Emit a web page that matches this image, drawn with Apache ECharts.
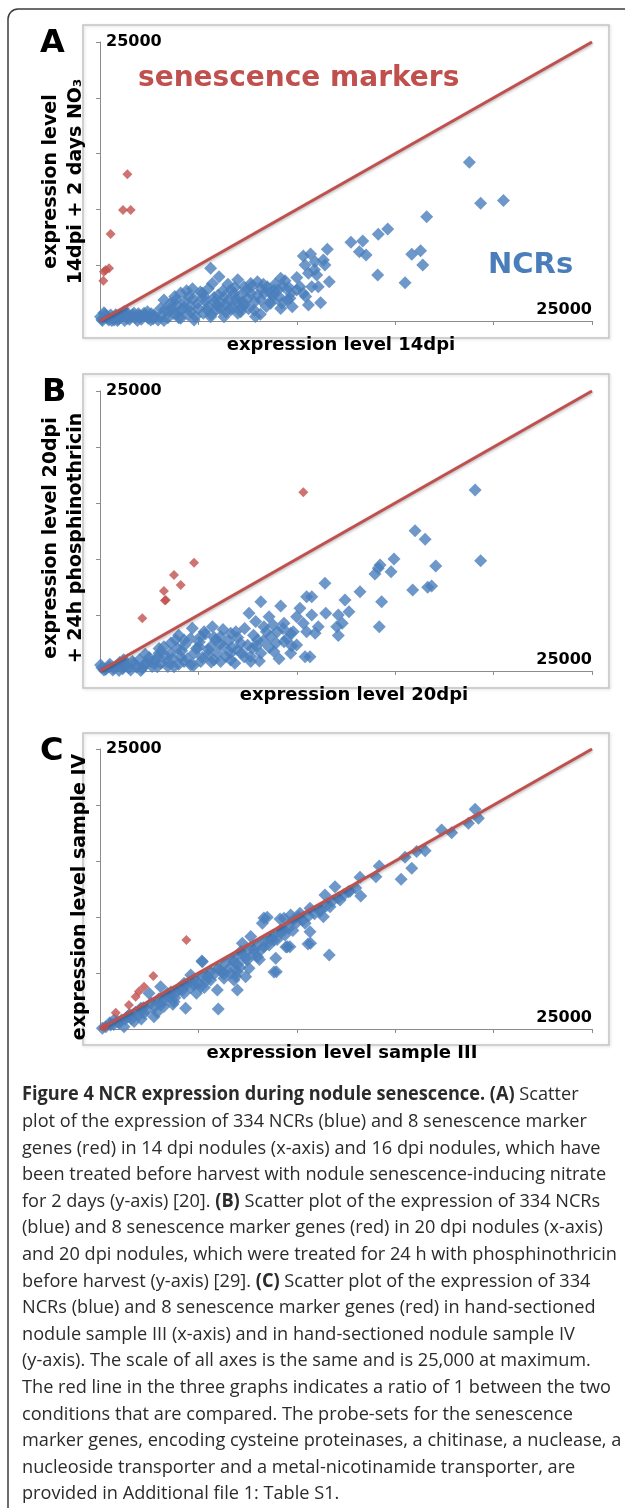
<!DOCTYPE html>
<html><head><meta charset="utf-8">
<style>html,body{margin:0;padding:0;background:#fff}#c{width:625px;height:1508px}</style>
<script src="https://cdn.jsdelivr.net/npm/echarts@6/dist/echarts.min.js"></script>
</head><body><div id="c"></div>
<script>
// ---------- data ----------
const AXIS_MIN = 0, AXIS_MAX = 25000, AXIS_STEP = 5000;
const maxTickLabel = '25000';
const panelLetters = ['A', 'B', 'C'];
const xTitles = ['expression level 14dpi', 'expression level 20dpi', 'expression level sample III'];
const yTitles = ['expression level\n14dpi + 2 days NO\u2083', 'expression level 20dpi\n+ 24h phosphinothricin', 'expression level sample IV'];
const ratioLine = [[0, 0], [25000, 25000]];

const ncrA = [
 [18770,14220],[19340,10540],[20500,10800],[16600,9350],[14620,8240],[14140,7770],[12750,7050],[13350,7170],
 [13180,6210],[13520,5910],[15840,5970],[16290,6300],[16400,5020],[14110,4120],[15500,3430],[11550,6420],
 [10330,5820],[10700,6000],[10930,5320],[11350,5470],[11430,5020],[10420,5020],[10590,4270],[11010,4120],
 [11650,3520],[10160,3080],[10760,3080],[10330,2480],[11090,3080],[10590,1430],[11210,1640],[9650,2030],
 [9990,2780],[10900,4600],[10000,3900],[10450,2200],
 [5620,4720],[6050,3970],[5710,3370],[9180,3820],[9350,3080],[9100,2180],[9520,1880],[9180,1130],
 [8000,3520],[8500,3080],[7320,3080],[7660,2480],[6810,2480],[6300,2180],[6980,1580],[8170,1880],
 [8670,1580],[7830,990],[6640,990],[5960,1430],[5290,2180],[4950,1580],[5460,990],[4610,840],
 [4270,1280],[3930,690],[3590,1580],[3250,1880],[3080,1130],[3510,840],[2740,540],[2410,840],
 [2070,390],[1730,690],[1390,240],[1050,390],[710,90],[370,240],[120,50],[30,390],[880,50],[1900,50],
 [2580,90],[3250,50],[4100,240],[4780,90],[5620,390],[6300,390],[7150,840],[7320,1430],[8340,2480],
 [8840,2780],[9690,2480],[9770,1280],[7660,3370],[6640,2780],[6130,1580],[5200,2480],[4520,2180],
 [3850,1880],[200,750],[540,540],[1220,840],[1560,390],[2240,690],
 [100,150],[300,400],[450,100],[650,300],[800,550],[950,150],[1100,600],[1250,50],[1350,450],[1500,150],
 [1650,550],[1800,300],[1950,650],[2100,150],[2300,500],[2450,250],[2600,650],[2800,350],[2950,100],[250,600],
 [600,50],[1000,300],[1400,700],[2000,500],[2700,200],
 [3100,500],[3300,1000],[3450,300],[3600,1200],[3750,700],[3900,1400],[4000,300],[4150,1000],[4300,1700],[4450,600],
 [4600,1300],[4750,2000],[4850,400],[5000,1100],[5100,2600],[5250,700],[5350,1800],[5500,1300],[5650,600],[5800,2100],
 [5900,1000],[4400,2700],[4700,2900],[3800,2200],[4100,2500],
 [6100,1100],[6250,2700],[6400,800],[6550,1900],[6700,1300],[6850,3000],[7000,700],[7100,2200],[7250,1700],[7400,2700],
 [7550,1100],[7700,3100],[7850,1700],[8000,2300],[8150,600],[8300,3300],[8450,1300],[8600,2600],[8750,1900],[8900,3300],
 [9050,2800],[9250,1600],[9400,3600],[7900,400],[6500,3300],[7000,3700],
 [5500,2900],[6000,2300],[6900,2000],[7500,2000],[8200,2900],[8800,2300],[9600,3000],[5800,1700],[6400,1500],[7200,1200]
];
const senA = [[1390,13140],[1170,9950],[1560,9950],[540,7800],[200,4420],[460,4720],[170,3610],[290,4570]];

const ncrB = [
 [19060,16160],[19340,9850],[16010,12530],[16520,11760],[14940,10000],[14230,9470],[13970,8660],[14790,8870],
 [14140,9170],[17060,9380],[15890,7230],[16650,7470],[16850,7590],[11430,7830],[13210,7080],[12450,6340],
 [14310,6190],[12650,5300],[11470,5150],[12110,5000],[12310,4260],[12030,3960],[12110,3160],[14190,3960],
 [10500,6640],[10760,6640],[10160,5600],[9990,4850],[10760,5000],[10330,4260],[11090,3960],[10500,3510],
 [10930,3360],[9820,3510],[9990,2320],[10420,1280],[10670,1280],[9740,2230],
 [8170,6190],[9180,5810],[7570,5150],[8590,4850],[7910,4410],[8330,3960],[4690,3810],[9350,4260],
 [9010,3510],[6900,3510],[5710,3960],[6130,3070],[5120,3070],[7150,2470],[6300,2170],[8000,2770],
 [8670,3070],[9350,2620],[8840,1730],[7320,1280],[8170,1580],[6640,980],[5620,2170],[4270,2770],
 [3930,2030],[3590,1580],[3250,2170],[3000,1580],[4780,1580],[5460,1430],[5120,840],[4270,840],
 [3420,840],[2580,840],[6130,840],[6980,1880],[7660,840],[2240,540],[1730,690],[1220,390],[710,240],
 [200,90],[30,540],[460,390],[970,50],[1560,90],[2070,50],[2910,390],[3760,390],[4610,540],[5790,980],
 [6640,1580],[5030,2170],[4100,1280],[7740,2030],[9690,3360],[9690,1580],[5880,2770],[6640,3360],[5290,3510],
 [100,300],[300,150],[500,600],[650,100],[850,450],[1000,750],[1150,200],[1300,600],[1450,300],[1650,850],
 [1850,350],[2000,1000],[2150,250],[2350,700],[2500,1200],[2650,400],[2800,900],[2950,1300],[3100,700],[3300,1400],
 [3450,400],[3600,2500],[3700,1100],[3850,2800],[4000,600],[4150,1800],[4300,2300],[4450,1100],[4600,2900],[4750,500],
 [4900,2000],[5050,2600],[5200,1200],[5350,3300],[5500,1900],[5650,800],[5800,3000],[5950,1600],[6100,2400],[6250,3700],
 [6400,1300],[6550,2700],[6700,2100],[6850,700],[7000,3000],[7200,1600],[7350,3800],[7500,2300],[7650,1300],[7800,3200],
 [7950,2200],[8100,900],[8300,2700],[8450,3500],[8600,2100],[8800,4100],[8950,2500],[9100,1100],[9300,3800],[9500,2900],
 [2300,1500],[1200,1000],[4000,3200],[3000,2000]
];
const senB = [[2150,4700],[3250,7140],[3340,6340],[3760,8570],[4100,7680],[4780,9670],[10330,15950],[3300,6300]];

const ncrC = [
 [19060,19610],[19230,18810],[18720,18360],[17870,17530],[17360,17770],[16520,15920],[16090,15840],[15500,15330],
 [15840,14350],[15300,13370],[14190,14560],[14020,13600],[13210,13540],[13250,11880],[12620,12260],[11940,12710],
 [11430,11970],[12200,11520],[11690,10920],[11180,10480],[10670,10780],[10160,10330],[9820,9730],[10420,9440],
 [11350,10030],[10670,8690],[10700,7650],[9650,7350],[11650,6610],[10080,10030],
 [8500,9970],[8250,9440],[9350,9880],[9520,7350],[8930,6310],[8960,5120],[7660,8250],[7230,7650],
 [7150,6910],[7570,5420],[7400,4670],[6980,3490],[6640,4970],[5960,3490],[6010,1790],[5200,6010],
 [4610,4820],[4270,4080],[4350,1850],[3080,3780],[2490,3190],[3080,2150],[2740,1100],[1730,660],
 [970,510],[1390,1100],[2070,1850],[3590,2890],[3930,3340],[4780,3930],[5460,4670],[6130,5270],
 [6810,6010],[7830,7060],[8670,7950],[9180,8840],[9690,10180],[540,360],[120,60],[1220,210],
 [2240,1400],[3250,2000],[3760,2440],[4270,3190],[5120,3780],[5620,4380],[6300,4530],[6980,5120],
 [7490,6160],[8000,6460],[8330,7350],[8840,7950],[9350,8840],[710,810],[3420,3190],[6810,4380],
 [8840,5090],[9450,7320],[10570,7590],[5180,6070],[8330,9910],[9150,9820],
 [300,200],[500,550],[700,400],[900,700],[1100,800],[1300,900],[1500,1300],[1600,900],[1800,1500],[2000,1300],
 [2200,1900],[2400,1700],[2600,2300],[2800,2000],[3000,2700],[3200,2500],[3400,2900],[3600,3300],[3800,2800],[4000,3600],
 [4200,3500],[4400,4000],[4600,3700],[4800,4400],[5000,4100],[5200,4700],[5400,4300],[5600,5100],[5800,4900],[6000,5400],
 [6200,5100],[6400,5900],[6600,5500],[6800,6300],[7000,5800],[7200,6700],[7400,6300],[7600,7100],[7800,6700],[8000,7500],
 [8200,7100],[8400,7900],[8600,7500],[8800,8300],[9000,8000],[9200,8600],[9400,8400],[9600,9000],[9800,8800],[10000,9500],
 [10300,9700],[10600,10100],[10900,10300],[11200,10700],[11500,11000],[11800,11400],[12100,11700],[12400,12000],[12700,12300],[13000,12600],
 [3700,2200],[5300,3700],[6300,4900],[7100,5500],[4900,3200],[2900,1500],[2100,900],[8100,6200],[6900,4700]
];
const senC = [[4390,7950],[2710,4730],[2240,3780],[1980,3340],[1810,2890],[1470,2150],[800,1460],[200,150]];

const ncrData = [ncrA, ncrB, ncrC];
const senData = [senA, senB, senC];

const captionLines = [
 '{b|Figure 4 NCR expression during nodule senescence. (A)} Scatter',
 'plot of the expression of 334 NCRs (blue) and 8 senescence marker',
 'genes (red) in 14 dpi nodules (x-axis) and 16 dpi nodules, which have',
 'been treated before harvest with nodule senescence-inducing nitrate',
 'for 2 days (y-axis) [20]. {b|(B)} Scatter plot of the expression of 334 NCRs',
 '(blue) and 8 senescence marker genes (red) in 20 dpi nodules (x-axis)',
 'and 20 dpi nodules, which were treated for 24 h with phosphinothricin',
 'before harvest (y-axis) [29]. {b|(C)} Scatter plot of the expression of 334',
 'NCRs (blue) and 8 senescence marker genes (red) in hand-sectioned',
 'nodule sample III (x-axis) and in hand-sectioned nodule sample IV',
 '(y-axis). The scale of all axes is the same and is 25,000 at maximum.',
 'The red line in the three graphs indicates a ratio of 1 between the two',
 'conditions that are compared. The probe-sets for the senescence',
 'marker genes, encoding cysteine proteinases, a chitinase, a nuclease, a',
 'nucleoside transporter and a metal-nicotinamide transporter, are',
 'provided in Additional file 1: Table S1.'
];

// ---------- layout ----------
const BLUE = '#4a7ebb', RED = '#c0504d', AXIS_GRAY = '#8c8c8c';
const FONT = 'DejaVu Sans';
const grids = [
  {left: 100, top: 42, width: 492, height: 279},
  {left: 100, top: 391, width: 492, height: 280},
  {left: 100, top: 749, width: 492, height: 280}
];
const boxes = [[83, 25, 526, 313], [83, 374, 526, 314], [83, 733, 526, 312]];
const letterPos = [[40, 44], [42, 393], [40, 752]];
const xNamePad = [[0, 10, 0, 0], [0, 0, 0, 16], [0, 8, 0, 0]];
const yNamePad = [[0, 0, 0, 0], [0, 14, 0, 0], [0, 16, 0, 0]];
const yNameGap = [11, 11, 5];

const chart = echarts.init(document.getElementById('c'), null, {renderer: 'canvas', width: 625, height: 1508});

const labelFmt = v => (v === AXIS_MAX ? maxTickLabel : '');
const xAxes = [], yAxes = [], series = [];
for (let i = 0; i < 3; i++) {
  xAxes.push({
    gridIndex: i, type: 'value', min: AXIS_MIN, max: AXIS_MAX, interval: AXIS_STEP,
    axisLine: {lineStyle: {color: AXIS_GRAY, width: 1}},
    axisTick: {show: true, length: 4, lineStyle: {color: AXIS_GRAY}},
    splitLine: {show: false},
    axisLabel: {inside: true, margin: 3, showMaxLabel: true, showMinLabel: false, formatter: labelFmt,
      align: 'right', color: '#000', fontFamily: FONT, fontWeight: 'bold', fontSize: 16},
    name: xTitles[i], nameLocation: 'middle', nameGap: 15,
    nameTextStyle: {color: '#000', fontFamily: FONT, fontWeight: 'bold', fontSize: 18, padding: xNamePad[i]}
  });
  yAxes.push({
    gridIndex: i, type: 'value', min: AXIS_MIN, max: AXIS_MAX, interval: AXIS_STEP,
    axisLine: {show: true, lineStyle: {color: AXIS_GRAY, width: 1}},
    axisTick: {show: true, length: 4, lineStyle: {color: AXIS_GRAY}},
    splitLine: {show: false},
    axisLabel: {inside: true, margin: 6, showMaxLabel: true, showMinLabel: false, formatter: labelFmt,
      color: '#000', fontFamily: FONT, fontWeight: 'bold', fontSize: 16},
    name: yTitles[i], nameLocation: 'middle', nameRotate: 90, nameGap: yNameGap[i],
    nameTextStyle: {color: '#000', fontFamily: FONT, fontWeight: 'bold', fontSize: 19, lineHeight: 25, padding: yNamePad[i]}
  });
  series.push({
    type: 'scatter', xAxisIndex: i, yAxisIndex: i, data: ncrData[i], symbol: 'diamond', symbolSize: 13,
    itemStyle: {color: BLUE}, z: 2, silent: true
  });
  series.push({
    type: 'line', xAxisIndex: i, yAxisIndex: i, data: ratioLine, symbol: 'none', silent: true,
    lineStyle: {color: RED, width: 3, shadowColor: 'rgba(0,0,0,0.3)', shadowBlur: 3, shadowOffsetY: 1.5}, z: 3
  });
  series.push({
    type: 'scatter', xAxisIndex: i, yAxisIndex: i, data: senData[i], symbol: 'diamond', symbolSize: 10,
    itemStyle: {color: RED}, z: 4, silent: true
  });
}

// caption scale (condensed look)
const mctx = document.createElement('canvas').getContext('2d');
mctx.font = '19px "Open Sans"';
const capScale = 595 / mctx.measureText(captionLines[6]).width;

const graphics = [];
graphics.push({type: 'rect', shape: {x: 8, y: 9, width: 700, height: 1600, r: 10},
  style: {fill: 'none', stroke: '#3c3c3c', lineWidth: 1.5}, silent: true});
boxes.forEach(b => graphics.push({type: 'rect', shape: {x: b[0], y: b[1], width: b[2], height: b[3]},
  style: {fill: 'none', stroke: '#c4c4c4', lineWidth: 1.5, shadowColor: 'rgba(0,0,0,0.15)', shadowBlur: 3, shadowOffsetX: 1, shadowOffsetY: 1},
  silent: true, z: -1}));
panelLetters.forEach((t, i) => graphics.push({type: 'text', x: letterPos[i][0], y: letterPos[i][1], z: 10,
  style: {text: t, fill: '#000', font: 'bold 32px "DejaVu Sans"', verticalAlign: 'middle'}}));
graphics.push({type: 'text', x: 138, y: 79, style: {text: 'senescence markers', fill: RED, font: 'bold 28px "DejaVu Sans"', verticalAlign: 'middle'}});
graphics.push({type: 'text', x: 488, y: 265, style: {text: 'NCRs', fill: BLUE, font: 'bold 29px "DejaVu Sans"', verticalAlign: 'middle'}});
captionLines.forEach((line, i) => graphics.push({
  type: 'text', x: 22, y: 1095 + 26.6 * i, scaleX: capScale,
  style: {text: line, fill: '#2b2b2b', fontFamily: 'Open Sans', fontSize: 19, verticalAlign: 'middle',
    rich: {b: {fontFamily: 'Open Sans', fontSize: 19, fontWeight: 'bold', fill: '#2b2b2b'}}}
}));

chart.setOption({
  animation: false,
  backgroundColor: '#fff',
  grid: grids,
  xAxis: xAxes,
  yAxis: yAxes,
  series: series,
  graphic: graphics
});
</script>
</body></html>
